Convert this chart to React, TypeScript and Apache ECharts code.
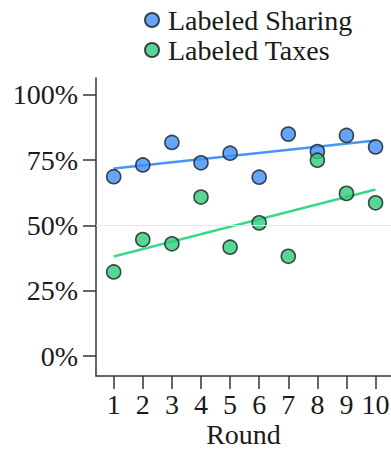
import React, { useEffect, useRef } from "react";
import * as echarts from "echarts";

// Rounds 1–10
const rounds = [1, 2, 3, 4, 5, 6, 7, 8, 9, 10];
// Share of labeled responses per round (%)
const sharingValues = [68.7, 73.2, 81.8, 74.0, 77.7, 68.5, 85.0, 78.3, 84.5, 80.1];
const taxesValues = [32.2, 44.6, 43.0, 60.9, 41.7, 51.0, 38.2, 75.0, 62.3, 58.7];
// Fitted trend lines: value at round 1 and at round 10
const sharingTrend = [71.8, 82.6];
const taxesTrend = [38.1, 63.8];
const yTicks = [0, 25, 50, 75, 100];

const BLUE = "#3e8ef7";
const GREEN = "#2ecc7a";
const BLUE_LINE = "#4a94f2";
const GREEN_LINE = "#3ad98a";
const FONT = "Liberation Serif";
const INK = "#1a1a1a";
const AXIS = "#333333";
const FS = 28;

export default function App() {
  const ref = useRef<HTMLDivElement>(null);

  useEffect(() => {
    if (!ref.current) return;
    const chart = echarts.init(ref.current, undefined, { renderer: "svg" });

    const first = rounds[0];
    const last = rounds[rounds.length - 1];

    chart.setOption({
      animation: false,
      backgroundColor: "#ffffff",
      textStyle: { fontFamily: FONT },
      legend: {
        orient: "vertical",
        left: 139,
        top: 0,
        itemWidth: 14,
        itemHeight: 14,
        itemGap: 0,
        icon: "circle",
        data: ["Labeled Sharing", "Labeled Taxes"],
        textStyle: {
          fontFamily: FONT,
          fontSize: FS,
          color: INK,
          lineHeight: 30,
          padding: [0, 0, 0, 4],
        },
      },
      grid: {
        left: 96,
        right: 0,
        top: 78,
        bottom: 74,
        containLabel: false,
        outerBoundsMode: "none",
      },
      xAxis: {
        type: "value",
        min: 0.392,
        max: 10.53,
        name: "Round",
        nameLocation: "middle",
        nameGap: 46,
        nameMoveOverlap: false,
        nameTextStyle: { fontFamily: FONT, fontSize: FS, color: INK, lineHeight: 24 },
        axisLine: { show: true, onZero: false, lineStyle: { color: AXIS, width: 1.5 } },
        axisTick: {
          show: true,
          length: 13,
          customValues: rounds,
          lineStyle: { color: AXIS, width: 1.5 },
        },
        axisLabel: {
          customValues: rounds,
          fontFamily: FONT,
          fontSize: FS,
          color: INK,
          margin: 14,
        },
        splitLine: { show: false },
      },
      yAxis: {
        type: "value",
        min: -7.66,
        max: 106.5,
        axisLine: { show: true, onZero: false, lineStyle: { color: AXIS, width: 1.5 } },
        axisTick: {
          show: true,
          length: 13,
          customValues: yTicks,
          lineStyle: { color: AXIS, width: 1.5 },
        },
        axisLabel: {
          customValues: yTicks,
          formatter: (v: number) => `${v}%`,
          fontFamily: FONT,
          fontSize: FS,
          color: INK,
          margin: 18,
        },
        splitLine: { show: false },
      },
      series: [
        {
          name: "Sharing trend",
          type: "line",
          data: [
            [first, sharingTrend[0]],
            [last, sharingTrend[1]],
          ],
          showSymbol: false,
          symbol: "none",
          silent: true,
          lineStyle: { color: BLUE_LINE, width: 2.5 },
          z: 1,
          markLine: {
            silent: true,
            symbol: "none",
            label: { show: false },
            lineStyle: { color: "#e6e6e6", width: 1, type: "solid" },
            data: [{ yAxis: 50 }],
          },
        },
        {
          name: "Taxes trend",
          type: "line",
          data: [
            [first, taxesTrend[0]],
            [last, taxesTrend[1]],
          ],
          showSymbol: false,
          symbol: "none",
          silent: true,
          lineStyle: { color: GREEN_LINE, width: 2.5 },
          z: 1,
        },
        {
          name: "Labeled Sharing",
          type: "scatter",
          data: rounds.map((r, i) => [r, sharingValues[i]]),
          symbolSize: 14,
          itemStyle: { color: BLUE, borderColor: "#1c1c1c", borderWidth: 1.6 },
          z: 3,
        },
        {
          name: "Labeled Taxes",
          type: "scatter",
          data: rounds.map((r, i) => [r, taxesValues[i]]),
          symbolSize: 14,
          itemStyle: { color: GREEN, borderColor: "#1c1c1c", borderWidth: 1.6 },
          z: 4,
        },
      ],
    });

    return () => chart.dispose();
  }, []);

  return <div ref={ref} style={{ width: 391, height: 450, position: "absolute", left: 0, top: 0 }} />;
}
